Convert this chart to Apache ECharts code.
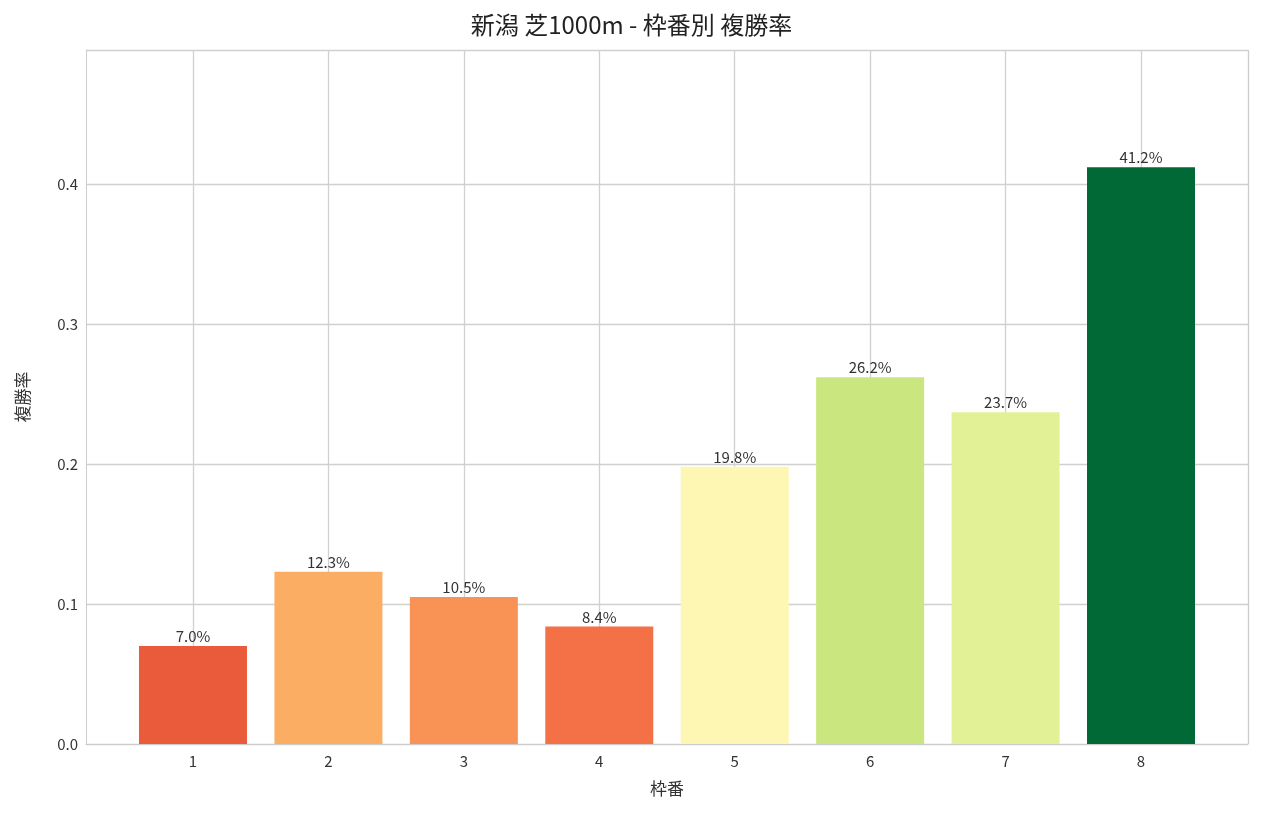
<!DOCTYPE html><html><head><meta charset="utf-8">
<script src="https://cdn.jsdelivr.net/npm/echarts@6/dist/echarts.min.js"></script>
<style>body{margin:0}#c{width:1263px;height:819px}</style></head><body><div id="c"></div>
<script>
const categories=[1,2,3,4,5,6,7,8];
const values=[0.070,0.123,0.105,0.084,0.198,0.262,0.237,0.412];
const colors=['#ea5b3b','#fbad63','#f89355','#f47148','#fef7b3','#c9e77e','#e2f196','#006936'];
const yTicks=[0,0.1,0.2,0.3,0.4];
const font='"Noto Sans CJK JP","DejaVu Sans",sans-serif';
const chart=echarts.init(document.getElementById('c'));
chart.setOption({
 animation:false,
 title:{text:'新潟 芝1000m - 枠番別 複勝率',left:'center',top:8,textStyle:{fontFamily:font,fontSize:24,fontWeight:'normal',color:'#222'}},
 grid:{left:86,right:15,top:50,bottom:75},
 xAxis:{type:'value',min:0.21,max:8.79,name:'枠番',nameLocation:'middle',nameGap:36,nameTextStyle:{fontFamily:font,fontSize:17,color:'#333'},
  axisLine:{show:true,lineStyle:{color:'#ccc'}},axisTick:{show:false},splitLine:{show:false},
  axisLabel:{customValues:categories,fontFamily:font,fontSize:15,color:'#333',margin:10}},
 yAxis:{type:'value',min:0,max:0.4957,interval:0.1,name:'複勝率',nameLocation:'middle',nameGap:55,nameTextStyle:{fontFamily:font,fontSize:17,color:'#333'},
  axisLine:{show:true,lineStyle:{color:'#ccc'}},axisTick:{show:false},
  splitLine:{lineStyle:{color:'#d0d0d0',width:1.3}},
  axisLabel:{showMaxLabel:false,fontFamily:font,fontSize:15,color:'#333',formatter:v=>v.toFixed(1)}},
 series:[{type:'bar',barWidth:108,z:3,
  data:categories.map((c,i)=>({value:[c,values[i]],itemStyle:{color:colors[i]}})),
  label:{show:true,position:'top',distance:2,fontFamily:font,fontSize:15,color:'#333',formatter:p=>(p.value[1]*100).toFixed(1)+'%'},
  markLine:{silent:true,symbol:'none',z:1,label:{show:false},lineStyle:{color:'#d0d0d0',type:'solid',width:1.3},
   data:categories.map(c=>({xAxis:c}))}},
  {type:'line',data:[],markLine:{silent:true,symbol:'none',label:{show:false},lineStyle:{color:'#ccc',type:'solid',width:1.3},data:[{xAxis:8.79},{yAxis:0.4957}]}}]
});
</script></body></html>
